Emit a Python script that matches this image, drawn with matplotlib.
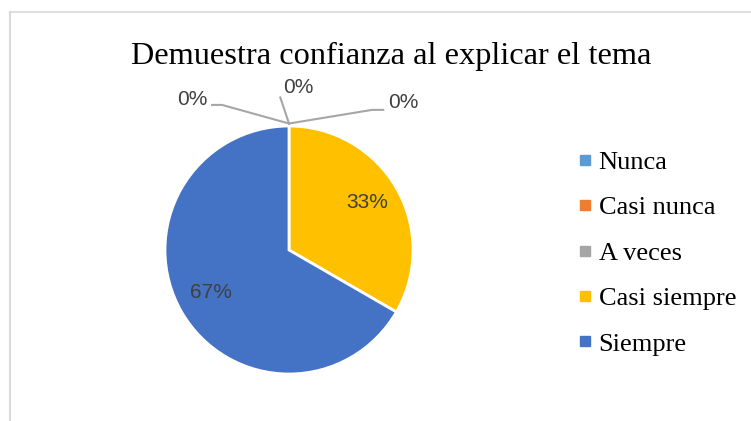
import matplotlib.pyplot as plt
from matplotlib.lines import Line2D
import numpy as np

categorias = ['Nunca', 'Casi nunca', 'A veces', 'Casi siempre', 'Siempre']
valores = [0, 0, 0, 1, 2]
colores = ['#5B9BD5', '#ED7D31', '#A5A5A5', '#FFC000', '#4472C4']
titulo = 'Demuestra confianza al explicar el tema'

W, H = 751, 421
fig = plt.figure(figsize=(W / 100, H / 100), dpi=100)

# marco del grafico
fig.add_artist(Line2D([10 / W, 10 / W], [0, 1 - 12 / H], color='#D9D9D9', lw=1.5))
fig.add_artist(Line2D([10 / W, 1], [1 - 12 / H, 1 - 12 / H], color='#D9D9D9', lw=1.2))

cx, cy, r = 289, 250, 124
ax = fig.add_axes([(cx - r) / W, (H - cy - r) / H, 2 * r / W, 2 * r / H])
total = sum(valores)
pct = [round(v / total * 100) for v in valores]

wedges, _ = ax.pie(valores, colors=colores, startangle=90, counterclock=False,
                   wedgeprops=dict(edgecolor='white', linewidth=2), radius=1)
ax.set_xlim(-1, 1)
ax.set_ylim(-1, 1)
ax.set_aspect('auto')
ax.axis('off')

# etiquetas dentro de las porciones no nulas
ang = 90.0
for v, p in zip(valores, pct):
    span = v / total * 360
    if v > 0:
        mid = np.deg2rad(ang - span / 2)
        ax.text(0.73 * np.cos(mid), 0.72 * np.sin(mid) + 0.02, f'{p}%', ha='center', va='center',
                fontsize=15, color='#404040', family='Liberation Sans')
    ang -= span

# etiquetas 0% con lineas guia
ceros = [i for i, v in enumerate(valores) if v == 0]
guias = [
    ([0, -0.54, -0.62], [1.02, 1.17, 1.17], -0.66, 1.21, 'right'),
    ([0, -0.07], [1.02, 1.23], -0.05, 1.31, 'left'),
    ([0, 0.67, 0.76], [1.02, 1.13, 1.13], 0.80, 1.19, 'left'),
]
for i, (xs, ys, tx, ty, ha) in zip(ceros, guias):
    ax.plot(xs, ys, color='#A6A6A6', lw=1.5, clip_on=False)
    ax.text(tx, ty, f'{pct[i]}%', ha=ha, va='center', fontsize=15,
            color='#404040', family='Liberation Sans', clip_on=False)

fig.text(391 / W, 1 - 56 / H, titulo, ha='center', va='center', fontsize=23.3,
         family='Liberation Serif', color='black')

handles = [Line2D([], [], marker='s', ls='', color=c, markersize=6.5) for c in colores]
leg = fig.legend(handles, categorias, loc='upper left', bbox_to_anchor=(567 / W, 1 - 140 / H),
                 frameon=False, prop=dict(family='Liberation Serif', size=19),
                 handlelength=0.6, handletextpad=0.2, labelspacing=0.83, borderaxespad=0)

fig.savefig('out.png', dpi=100)
